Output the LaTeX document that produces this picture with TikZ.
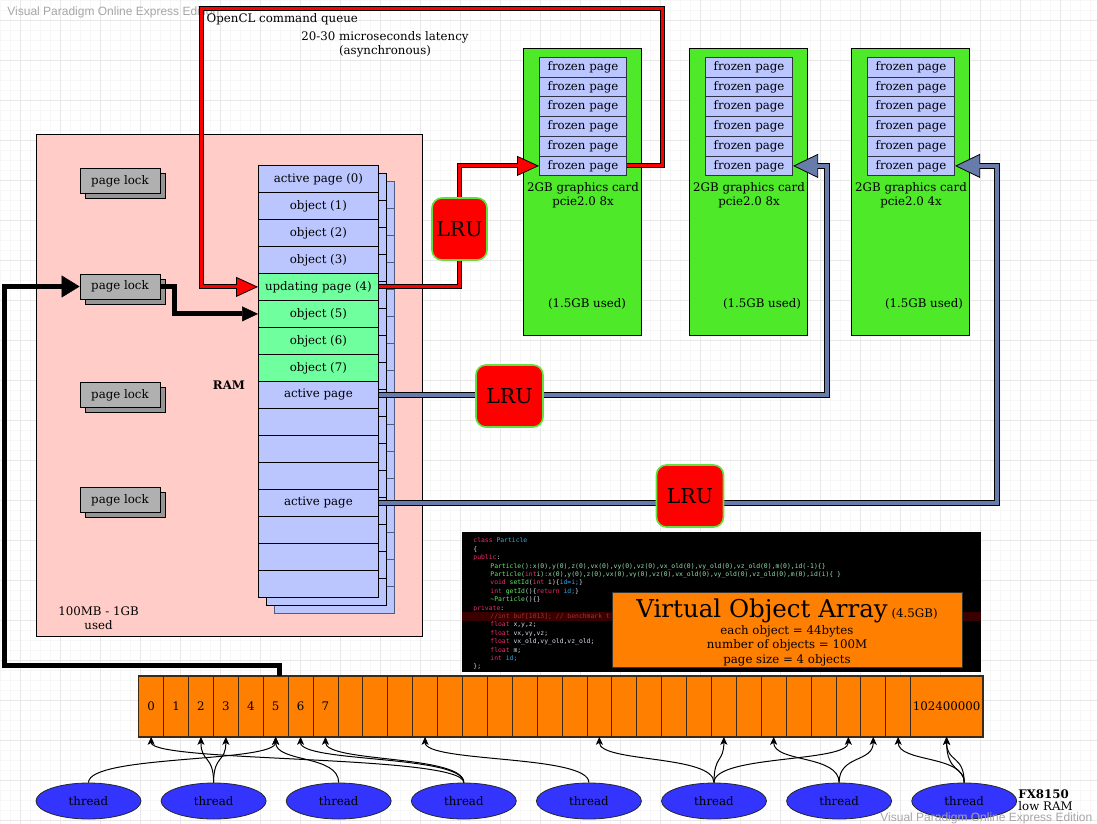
\documentclass[tikz,border=0pt]{standalone}
\usepackage{fontspec}
\setmainfont{DejaVu Serif}
\newfontfamily\codefont{DejaVu Sans Mono}
\newfontfamily\wmfont{Liberation Sans}
\usetikzlibrary{arrows.meta,shapes.geometric,shadows,positioning}
\definecolor{objblue}{RGB}{187,198,255}
\definecolor{objgreen}{RGB}{112,255,158}
\definecolor{ramfill}{RGB}{255,204,199}
\definecolor{gpugreen}{RGB}{78,234,42}
\definecolor{lockgrey}{RGB}{176,176,176}
\definecolor{lockshade}{RGB}{150,150,150}
\definecolor{pipeblue}{RGB}{103,124,170}
\definecolor{stackedge}{RGB}{80,92,125}
\definecolor{frozenedge}{RGB}{50,50,70}
\definecolor{arrayorange}{RGB}{255,127,0}
\definecolor{celledge}{RGB}{60,40,20}
\definecolor{threadblue}{RGB}{52,52,255}
\definecolor{lrugreen}{RGB}{96,226,60}
\definecolor{codekw}{RGB}{240,45,110}
\definecolor{codety}{RGB}{50,170,235}
\definecolor{codefn}{RGB}{100,235,100}
\definecolor{codearg}{RGB}{150,225,175}
\definecolor{codetx}{RGB}{215,222,235}
\definecolor{codecm}{RGB}{165,50,50}
\definecolor{codeband}{RGB}{58,0,0}
\newcommand{\basefont}{\fontsize{11.8}{14}\selectfont}
\newcommand{\ckw}[1]{\textcolor{codekw}{#1}}
\newcommand{\cty}[1]{\textcolor{codety}{#1}}
\newcommand{\cfn}[1]{\textcolor{codefn}{#1}}
\newcommand{\carg}[1]{\textcolor{codearg}{#1}}
\newcommand{\ccm}[1]{\textcolor{codecm}{#1}}
\newcommand{\cind}{\hspace*{17pt}}

\begin{document}
\begin{tikzpicture}[x=1pt, y=-1pt, line width=0.8pt, font=\basefont,
  pagerow/.style={draw, fill=objblue, anchor=north west, minimum width=120pt,
    minimum height=27pt, inner sep=0pt},
  pagelock/.style={draw, fill=lockgrey, minimum width=80pt, minimum height=25pt,
    inner sep=0pt, general shadow={shadow xshift=5pt, shadow yshift=-5pt,
    fill=lockshade, draw=black}},
  gpu/.style={draw, fill=gpugreen, anchor=north west, minimum width=118pt,
    minimum height=287pt, inner sep=0pt},
  frozen/.style={draw=frozenedge, line width=1.1pt, fill=objblue, anchor=north west,
    minimum width=87pt, minimum height=19.7pt, inner sep=0pt},
  arrcell/.style={draw=celledge, fill=arrayorange, anchor=north west,
    minimum width=24.9pt, minimum height=60pt, inner sep=0pt},
  thread/.style={ellipse, draw=black!85, fill=threadblue, minimum width=105pt,
    minimum height=36pt, inner sep=0pt},
  thrlink/.style={-{Stealth[length=8pt,width=7pt,inset=2pt]}, line width=1pt},
  lru/.style={draw=lrugreen, line width=1.6pt, fill=red, rounded corners=10pt,
    minimum height=62pt, inner sep=0pt, font=\fontsize{20.5}{20.5}\selectfont},
  redpipe/.style={draw=black, line width=5pt,
    -{Triangle[length=22pt,width=20pt,fill=red,line width=0.8pt]},
    postaction={draw=red, line width=3pt, -, shorten >=20pt}},
  bluepipe/.style={draw=black, line width=6pt,
    -{Triangle[length=25pt,width=24pt,fill=pipeblue,line width=0.8pt]},
    postaction={draw=pipeblue, line width=4pt, -, shorten >=23pt}},
  blackpipe/.style={draw=black, line width=5pt,
    -{Triangle[length=18pt,width=22pt,line width=0.5pt]}},
  blackpipe small/.style={draw=black, line width=5pt,
    -{Triangle[length=16pt,width=15pt,line width=0.5pt]}},
]
\useasboundingbox (0,0) rectangle (1097,824);
\fill[white] (0,0) rectangle (1097,824);
% background grid
\foreach \g in {0,10,...,1090} \draw[gray!6, line width=0.5pt] (\g,0) -- (\g,824);
\foreach \g in {0,10,...,820} \draw[gray!6, line width=0.5pt] (0,\g) -- (1097,\g);
\foreach \g in {20,60,...,1080} \draw[gray!18, line width=0.7pt] (\g,0) -- (\g,824);
\foreach \g in {20,60,...,820} \draw[gray!18, line width=0.7pt] (0,\g) -- (1097,\g);
\node[anchor=west, text=gray!70, inner sep=0pt, font=\wmfont\fontsize{12}{14}\selectfont]
  (wmtop) at (7,12) {Visual Paradigm Online Express Edition};

% RAM
\node[draw, fill=ramfill, anchor=north west, minimum width=386pt, minimum height=502pt,
  inner sep=0pt] (ram) at (36,134) {};
\node[font=\basefont\bfseries] (ramlbl) at (229,385) {RAM};
\node[align=center] (ramsize) at (98.5,618.5) {100MB - 1GB\\used};
\node[pagelock] (lock1) at (120,181) {page lock};
\node[pagelock] (lock2) at (120,286.5) {page lock};
\node[pagelock] (lock3) at (120,395) {page lock};
\node[pagelock] (lock4) at (120,500) {page lock};

% page stack
\foreach \s/\edge in {16/stackedge,8/black}
  \foreach \i in {0,...,15}
    \draw[draw=\edge, fill=objblue] ({258+\s},{165+\s+27*\i}) rectangle ++(120,27);
\foreach \lbl [count=\i from 0] in {active page (0),object (1),object (2),object (3),
    updating page (4),object (5),object (6),object (7),active page,{},{},{},
    active page,{},{},{}}{
  \def\rowfill{objblue}
  \ifnum\i>3 \ifnum\i<8 \def\rowfill{objgreen}\fi\fi
  \node[pagerow, fill=\rowfill] (r\i) at (258,{165+27*\i}) {\lbl};
}

% graphics cards
\foreach \g/\x/\lane/\ux in {A/523/8x/587,B/689/8x/762,C/851/4x/924}{
  \node[gpu] (gpu\g) at (\x,48) {};
  \foreach \i in {1,...,6}
    \node[frozen] (gpu\g\i) at ({\x+16},{57+19.7*(\i-1)}) {frozen page};
  \node[align=center, inner sep=0pt, below=6pt of gpu\g6] (spec\g)
    {2GB graphics card\\pcie2.0 \lane};
  \node (used\g) at (\ux,304) {(1.5GB used)};
}

% code listing and object array info
\node[fill=black, anchor=north west, minimum width=519pt, minimum height=140pt,
  inner sep=0pt] (code) at (462,532) {};
\fill[codeband] (462,612) rectangle (981,620.5);
\node[anchor=north west, align=left, inner sep=0pt, text=codetx,
  font=\codefont\fontsize{6.4}{8.4}\selectfont] (codetxt) at (473,537.5) {%
  \ckw{class} \cty{Particle}\\
  \{\\
  \ckw{public}:\\
  \cind\cfn{Particle}\carg{():x(0),y(0),z(0),vx(0),vy(0),vz(0),vx\_old(0),vy\_old(0),vz\_old(0),m(0),id(-1)\{\}}\\
  \cind\cfn{Particle}\carg{(}\ckw{int}\carg{ i):x(0),y(0),z(0),vx(0),vy(0),vz(0),vx\_old(0),vy\_old(0),vz\_old(0),m(0),id(i)\{ \}}\\
  \cind\ckw{void} \cfn{setId}(\ckw{int} i)\{\cty{id=i;}\}\\
  \cind\ckw{int} \cfn{getId}()\{\ckw{return} \cty{id;}\}\\
  \cind\cfn{\textasciitilde Particle}()\{\}\\
  \ckw{private}:\\
  \cind\ccm{//int buf[1013]; // benchmark t}\\
  \cind\ckw{float} x,y,z;\\
  \cind\ckw{float} vx,vy,vz;\\
  \cind\ckw{float} vx\_old,vy\_old,vz\_old;\\
  \cind\ckw{float} m;\\
  \cind\ckw{int} \cty{id;}\\
  \};};
\node[draw=black!80, fill=arrayorange, anchor=north west, minimum width=350pt,
  minimum height=75pt, inner sep=0pt] (voa) at (612,592) {};
\node (voatitle) at (787,610.5)
  {{\fontsize{24.5}{25}\selectfont Virtual Object Array} (4.5GB)};
\node[align=center, font=\fontsize{11.8}{14.6}\selectfont] (voainfo) at (787,645.5)
  {each object = 44bytes\\number of objects = 100M\\page size = 4 objects};

% virtual object array
\foreach \i in {0,...,30}
  \node[arrcell] (c\i) at ({138.3+24.9*\i},676) {\ifnum\i<8 \i\fi};
\node[arrcell, minimum width=72pt] (c31) at (910.2,676) {102400000};
\draw[draw=celledge, line width=1.4pt] (c0.north west) rectangle (c31.south east);

% threads
\foreach \i in {1,...,8}
  \node[thread] (t\i) at ({88.5+125.1*(\i-1)},801) {thread};
\foreach \t/\c in {1/5,2/2,2/3,3/5,4/0,4/6,4/7,5/11,6/18,6/23,6/28,7/25,7/29,8/30,8/31}
  \draw[thrlink] (t\t.north) .. controls +(0,-28) and +(0,26) .. (c\c.south);
\draw[thrlink] (t8.north) .. controls +(0,-16) and +(0,36) .. (c31.south);

% pipes
\coordinate (qtr) at (662,9);
\coordinate (qtl) at (201,9);
\coordinate (lockbus) at (4,665);
\coordinate (lruApos) at (459.5,229);
\draw[redpipe] (gpuA6.east) -| (qtr) -- (qtl) |- (r4.west);
\draw[redpipe] (r4.east) -| (lruApos) |- (gpuA6.west);
\draw[bluepipe] (r8.east) -| ([xshift=34pt]gpuB6.east) -- (gpuB6.east);
\draw[bluepipe] (r12.east) -| ([xshift=42pt]gpuC6.east) -- (gpuC6.east);
\draw[blackpipe] ([xshift=4pt]c5.north) |- (lockbus) |- (lock2.west);
\draw[blackpipe small] (lock2.east) -- ++(14,0) |- (r5.west);

\node[lru, minimum width=55pt] (lruA) at (lruApos) {LRU};
\node[lru, minimum width=67pt] (lruB) at (509.5,396) {LRU};
\node[lru, minimum width=67pt] (lruC) at (690,496) {LRU};

% labels
\node[anchor=west] (qlabel) at (203,19) {OpenCL command queue};
\node[align=center] (qlatency) at (385,44.5) {20-30 microseconds latency\\(asynchronous)};
\node[anchor=north west, align=left, inner sep=0pt, font=\fontsize{11.8}{12}\selectfont]
  (cpu) at (1018,789) {\textbf{FX8150}\\low RAM};
\node[anchor=west, text=gray!70, inner sep=0pt, font=\wmfont\fontsize{12}{14}\selectfont]
  (wmbot) at (880,818) {Visual Paradigm Online Express Edition};
\end{tikzpicture}
\end{document}
